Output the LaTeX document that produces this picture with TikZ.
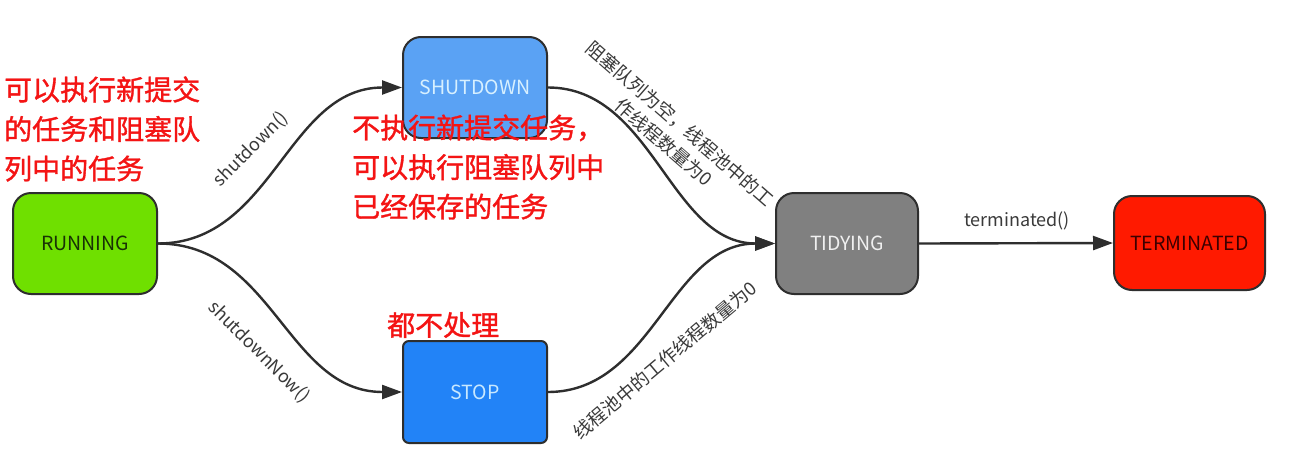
\documentclass[tikz,border=0pt]{standalone}
\usepackage{fontspec}
\setmainfont{Noto Sans CJK SC}
\newfontfamily\notefont[FakeBold=1.2]{Noto Sans CJK SC}
\usetikzlibrary{arrows.meta}
\definecolor{edgec}{HTML}{2E2E2E}
\definecolor{runc}{HTML}{6FE000}
\definecolor{shutc}{HTML}{5AA2F4}
\definecolor{stopc}{HTML}{2283F7}
\definecolor{tidyc}{HTML}{808080}
\definecolor{termc}{HTML}{FF1A00}
\definecolor{notered}{HTML}{F41414}
\definecolor{lblc}{HTML}{3A3A3A}
\begin{document}
\begin{tikzpicture}[x=1pt,y=-1pt,
  state/.style={draw=edgec, line width=2pt, rounded corners=18pt, inner sep=0pt,
    minimum width=144pt, minimum height=101pt, font=\fontsize{19.5}{22}\selectfont},
  conn/.style={draw=edgec, line width=2.4pt, -{Triangle[length=20pt,width=14pt]}},
  note/.style={text=notered, font=\notefont\fontsize{28}{39.5}\selectfont, align=left, anchor=west, inner sep=0pt},
  lbl/.style={text=lblc, font=\fontsize{18}{25}\selectfont, align=center, inner sep=0pt}]
\path[use as bounding box, fill=white] (0,0) rectangle (1296,453);

\node[state, fill=runc, text={rgb,255:red,25;green,50;blue,5}] (run) at (85,243.5) {RUNNING};
\node[state, fill=shutc, text={rgb,255:red,215;green,240;blue,255}] (shut) at (475,87.5) {SHUTDOWN};
\node[state, fill=stopc, rounded corners=6pt, minimum height=102pt, text={rgb,255:red,200;green,232;blue,255}] (stop) at (475,392) {STOP};
\node[state, fill=tidyc, minimum width=142pt, text={rgb,255:red,240;green,240;blue,240}] (tidy) at (847,243.5) {TIDYING};
\node[state, fill=termc, minimum width=151pt, minimum height=94pt, text={rgb,255:red,60;green,0;blue,0}] (term) at (1189.5,243) {TERMINATED};

\draw[conn] (run.east) .. controls +(115,0) and +(-115,0) .. (shut.west);
\draw[conn] (run.east) .. controls +(115,0) and +(-115,0) .. (stop.west);
\draw[conn] (shut.east) .. controls +(105,0) and +(-105,0) .. (tidy.west);
\draw[conn] (stop.east) .. controls +(105,0) and +(-105,0) .. (tidy.west);
\draw[conn] (tidy.east) -- (term.west);

\node[lbl, rotate=45] (l1) at (251,149) {shutdown()};
\node[lbl, rotate=-45] (l2) at (259,352) {shutdownNow()};
\node[lbl, rotate=-41, font=\fontsize{18.5}{25}\selectfont] (l3) at (672,133) {阻塞队列为空，线程池中的工\\作线程数量为0};
\node[lbl, rotate=40, font=\fontsize{18.5}{25}\selectfont] (l4) at (665,360) {线程池中的工作线程数量为0};
\node[lbl] (l5) at (1017,221) {terminated()};

\node[note] (n1) at (4,129) {可以执行新提交\\的任务和阻塞队\\列中的任务};
\node[note] (n2) at (352,167) {不执行新提交任务，\\可以执行阻塞队列中\\已经保存的任务};
\node[note] (n3) at (387,325) {都不处理};
\end{tikzpicture}
\end{document}
